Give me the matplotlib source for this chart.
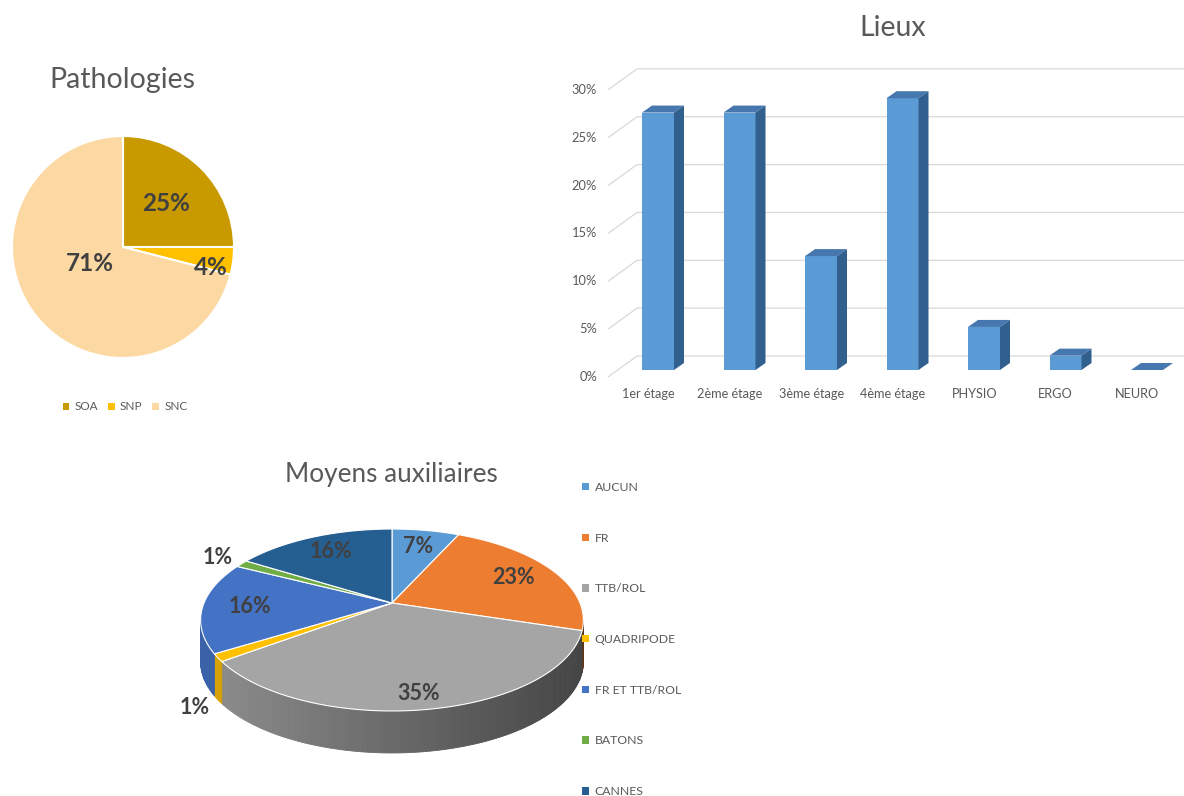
import numpy as np
import matplotlib
matplotlib.use("Agg")
import matplotlib.pyplot as plt
from matplotlib.patches import Polygon, Patch
from matplotlib.collections import PolyCollection
from matplotlib.colors import to_rgb

plt.rcParams['font.family'] = ['Lato', 'DejaVu Sans']

# ---------------- data ----------------
path_labels = ["SOA", "SNP", "SNC"]
path_values = [25, 4, 71]
path_colors = ["#C89A00", "#FFC000", "#FCD9A2"]

lieux_labels = ["1er étage", "2ème étage", "3ème étage", "4ème étage", "PHYSIO", "ERGO", "NEURO"]
lieux_values = [26.9, 26.9, 11.9, 28.4, 4.5, 1.5, 0.0]
lieux_ticks = [0, 5, 10, 15, 20, 25, 30]

moy_labels = ["AUCUN", "FR", "TTB/ROL", "QUADRIPODE", "FR ET TTB/ROL", "BATONS", "CANNES"]
moy_values = [6.8, 23.0, 35.1, 1.35, 16.2, 1.35, 16.2]
moy_colors = ["#5B9BD5", "#ED7D31", "#A5A5A5", "#FFC000", "#4472C4", "#70AD47", "#255E91"]

TXT = "#595959"
LBL = "#404040"
W, H = 1184, 796

fig = plt.figure(figsize=(W / 100, H / 100), dpi=100)


def box(l, t, r, b):
    return [l / W, 1 - b / H, (r - l) / W, (b - t) / H]


# ---------------- Pathologies pie ----------------
ax1 = fig.add_axes(box(12, 136, 234, 358))
ax1.pie(path_values, colors=path_colors, startangle=90, counterclock=False,
        wedgeprops=dict(edgecolor="white", linewidth=1.5))
ax1.set_xlim(-1, 1)
ax1.set_ylim(-1, 1)
path_lbl_r = [0.55, 0.80, 0.38]
path_lbl_dy = [0.0, -0.08, 0.08]
tot = sum(path_values)
cum = 0
for v, rr, dy in zip(path_values, path_lbl_r, path_lbl_dy):
    ang = np.deg2rad(90 - 360 * (cum + v / 2) / tot)
    cum += v
    ax1.text(rr * np.cos(ang), rr * np.sin(ang) + dy, f"{round(100 * v / tot)}%",
             ha="center", va="center", fontsize=17.5, fontweight="bold", color=LBL)
fig.text(122 / W, 1 - 80 / H, "Pathologies", ha="center", va="center", fontsize=20.5, color=TXT)
h1 = [Patch(facecolor=c, edgecolor="none") for c in path_colors]
fig.legend(h1, path_labels, loc="center", bbox_to_anchor=(125 / W, 1 - 407 / H), ncol=3,
           frameon=False, fontsize=8.5, labelcolor=TXT, handlelength=0.55, handleheight=0.55,
           handletextpad=0.45, columnspacing=0.85)

# ---------------- Lieux 3D bars ----------------
PXX, PXY = 81.5, 9.57          # pixels per category / per percent
ax2 = fig.add_axes(box(565, 45, 1184, 405))
ax2.set_xlim((565 - 658) / PXX, (1184 - 658) / PXX)
ax2.set_ylim((370 - 405) / PXY, (370 - 45) / PXY)
ax2.axis("off")

front_dy = -7 / PXY            # front axis plane below bar base
front_x = (608 - 658) / PXX
wall_dx, wall_dy = 29 / PXX, 21 / PXY
bar_w = 32 / PXX
bdx, bdy = 10 / PXX, 7 / PXY
xmax = ax2.get_xlim()[1]
for t in lieux_ticks:
    y0 = t + front_dy
    ax2.plot([front_x, front_x + wall_dx, xmax], [y0, y0 + wall_dy, y0 + wall_dy],
             color="#D9D9D9", lw=0.9, zorder=1, solid_capstyle="butt")
    ax2.text((597 - 658) / PXX, y0, f"{t}%", ha="right", va="center", fontsize=9.3, color=TXT)

xs = np.arange(len(lieux_values))
ax2.bar(xs, lieux_values, width=bar_w, color="#5B9BD5", zorder=3)
for x, v in zip(xs, lieux_values):
    l, r = x - bar_w / 2, x + bar_w / 2
    ax2.add_patch(Polygon([(l, v), (r, v), (r + bdx, v + bdy), (l + bdx, v + bdy)],
                          closed=True, facecolor="#4677AE", edgecolor="none", zorder=3))
    ax2.add_patch(Polygon([(r, 0), (r + bdx, bdy), (r + bdx, v + bdy), (r, v)],
                          closed=True, facecolor="#31608E", edgecolor="none", zorder=3))
for x, lab in zip(xs, lieux_labels):
    ax2.text(x - 0.12, (370 - 394) / PXY, lab, ha="center", va="center", fontsize=9.2, color=TXT)
fig.text(893 / W, 1 - 28 / H, "Lieux", ha="center", va="center", fontsize=20.5, color=TXT)

# ---------------- Moyens auxiliaires 3D pie ----------------
ax3 = fig.add_axes(box(170, 495, 600, 785))
ax3.set_xlim(-222, 208)
ax3.set_ylim(182, -108)
ax3.axis("off")
A, B, K, D = 188.0, 87.8, 0.1867, 42.0


def proj(th, r=1.0):
    u, w = r * np.sin(th), r * np.cos(th)
    d = 1 + K * w
    return A * u / d, -B * w / d


mtot = sum(moy_values)
bounds = 2 * np.pi * np.concatenate([[0], np.cumsum(moy_values)]) / mtot
th_min = np.arccos(-K)
th_max = 2 * np.pi - th_min

# sides
for i, c in enumerate(moy_colors):
    a0, a1 = max(bounds[i], th_min), min(bounds[i + 1], th_max)
    if a1 <= a0:
        continue
    n = max(2, int(np.degrees(a1 - a0)))
    ts = np.linspace(a0, a1, n + 1)
    quads, cols = [], []
    base = np.array(to_rgb(c))
    for t0, t1 in zip(ts[:-1], ts[1:]):
        x0, y0 = proj(t0)
        x1, y1 = proj(t1)
        quads.append([(x0, y0), (x1, y1), (x1, y1 + D), (x0, y0 + D)])
        xm = (x0 + x1) / 2
        f = 0.86 - 0.44 * (xm / A + 1) / 2
        cols.append(tuple(np.clip(base * f, 0, 1)))
    ax3.add_collection(PolyCollection(quads, facecolors=cols, edgecolors=cols, linewidths=0.6, zorder=2))

# tops
for i, c in enumerate(moy_colors):
    ts = np.linspace(bounds[i], bounds[i + 1], max(3, int(np.degrees(bounds[i + 1] - bounds[i])) * 2))
    pts = [(0, 0)] + [proj(t) for t in ts]
    ax3.add_patch(Polygon(pts, closed=True, facecolor=c, edgecolor="white", linewidth=0.8, zorder=3))

# labels
for i, v in enumerate(moy_values):
    mid = (bounds[i] + bounds[i + 1]) / 2
    if v / mtot < 0.03:
        x, y = proj(mid, 1.12 if np.cos(mid) < 0 else 1.18)
        if np.cos(mid) < 0:
            y += D
    else:
        x, y = proj(mid, 0.75)
        y += 0.5 * D * max(0.0, -0.75 * np.cos(mid))
    ax3.text(x, y, f"{round(100 * v / mtot)}%", ha="center", va="center",
             fontsize=15.5, fontweight="bold", color=LBL, zorder=5)

fig.text(391 / W, 1 - 475 / H, "Moyens auxiliaires", ha="center", va="center", fontsize=18.8, color=TXT)
h3 = [Patch(facecolor=c, edgecolor="none") for c in moy_colors]
fig.legend(h3, moy_labels, loc="upper left", bbox_to_anchor=(577 / W, 1 - 477 / H),
           frameon=False, fontsize=8.8, labelcolor=TXT, handlelength=0.55, handleheight=0.55,
           handletextpad=0.5, labelspacing=3.25, borderaxespad=0)

fig.savefig("out.png", dpi=100)
